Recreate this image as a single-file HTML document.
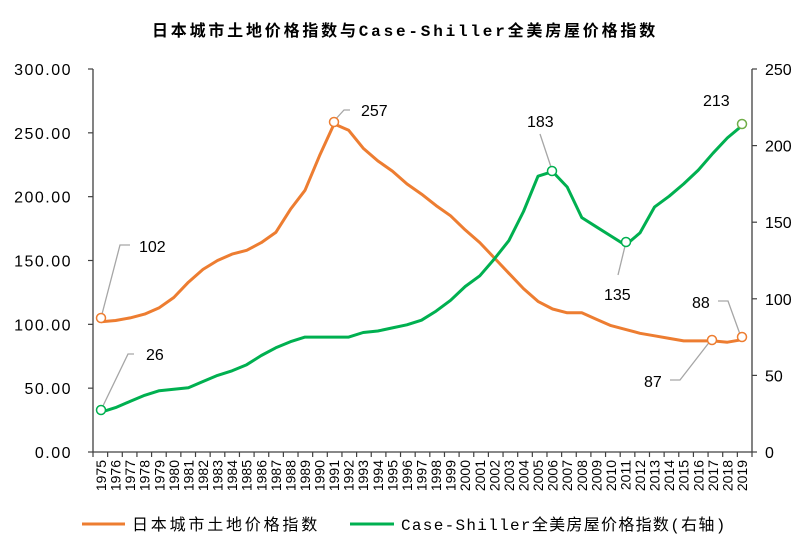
<!DOCTYPE html>
<html><head><meta charset="utf-8"><style>
body{margin:0;background:#fff;}
text{font-family:"Liberation Sans","Noto Sans CJK SC",sans-serif;fill:#000;}
</style></head><body>
<svg width="807" height="552" viewBox="0 0 807 552" xmlns="http://www.w3.org/2000/svg">
<text x="405" y="36" text-anchor="middle" font-size="16" style="font-family:'Liberation Mono','Noto Sans CJK SC',monospace;letter-spacing:2.8px;font-weight:bold">日本城市土地价格指数与Case-Shiller全美房屋价格指数</text>
<g stroke="#404040" stroke-width="1.3" fill="none">
<line x1="93" y1="69" x2="93" y2="452"/>
<line x1="752" y1="69" x2="752" y2="452"/>
<line x1="93" y1="452" x2="752" y2="452"/>
</g>
<g id="ticks" stroke="#404040" stroke-width="1.2"></g>
<g id="labels"></g>
<polyline id="org" fill="none" stroke="#ED7D31" stroke-width="3" stroke-linejoin="round"/>
<polyline id="grn" fill="none" stroke="#00B050" stroke-width="3" stroke-linejoin="round"/>
<g stroke="#A6A6A6" stroke-width="1.3" fill="none">
<polyline points="101,318 120,245 130,245"/>
<polyline points="101,410 128,354 134,354"/>
<polyline points="334,121 344,110 350,110"/>
<polyline points="552,170 540,134"/>
<polyline points="626,242 618,275"/>
<polyline points="711,340 680,380 670,380"/>
<polyline points="741,337 728,301 718,301"/>
</g>
<g fill="#fff" stroke-width="1.5">
<circle cx="101" cy="318" r="4.5" stroke="#ED7D31"/>
<circle cx="334" cy="122" r="4.5" stroke="#ED7D31"/>
<circle cx="712" cy="340" r="4.5" stroke="#ED7D31"/>
<circle cx="742" cy="337" r="4.5" stroke="#ED7D31"/>
<circle cx="101" cy="410" r="4.5" stroke="#00B050"/>
<circle cx="552" cy="171" r="4.5" stroke="#00B050"/>
<circle cx="626" cy="242" r="4.5" stroke="#00B050"/>
<circle cx="742" cy="124" r="4.5" stroke="#70AD47"/>
</g>
<g font-size="16">
<text x="139" y="252">102</text>
<text x="146" y="360">26</text>
<text x="361" y="116">257</text>
<text x="527" y="127">183</text>
<text x="604" y="300">135</text>
<text x="703" y="106">213</text>
<text x="644" y="387">87</text>
<text x="692" y="308">88</text>
</g>
<line x1="82" y1="524" x2="125" y2="524" stroke="#ED7D31" stroke-width="3"/>
<text x="132" y="530" font-size="16" style="font-family:'Liberation Mono','Noto Sans CJK SC',monospace;letter-spacing:2.8px">日本城市土地价格指数</text>
<line x1="350" y1="524" x2="394" y2="524" stroke="#00B050" stroke-width="3"/>
<text x="401" y="530" font-size="16" style="font-family:'Liberation Mono','Noto Sans CJK SC',monospace;letter-spacing:1.3px">Case-Shiller全美房屋价格指数(右轴)</text>
<script>
var ns="http://www.w3.org/2000/svg";
var o=[102,103,105,108,113,121,133,143,150,155,158,164,172,190,205,232,257,252,238,228,220,210,202,193,185,174,164,152,140,128,118,112,109,109,104,99,96,93,91,89,87,87,87,86,88];
var g=[26,29,33,37,40,41,42,46,50,53,57,63,68,72,75,75,75,75,78,79,81,83,86,92,99,108,115,126,138,157,180,183,173,153,147,141,135,143,160,167,175,184,195,205,213];
var x0=101,st=(742-101)/44;
var po=o.map((v,i)=>(x0+i*st).toFixed(1)+","+(452-v*383/300).toFixed(1)).join(" ");
var pg=g.map((v,i)=>(x0+i*st).toFixed(1)+","+(452-v*383/250).toFixed(1)).join(" ");
document.getElementById("org").setAttribute("points",po);
document.getElementById("grn").setAttribute("points",pg);
var T=document.getElementById("ticks"),L=document.getElementById("labels");
function el(n,a,p,t){var e=document.createElementNS(ns,n);for(var k in a)e.setAttribute(k,a[k]);if(t!==undefined)e.textContent=t;p.appendChild(e);}
for(var i=0;i<=45;i++){var x=93+i*(659/45);el("line",{x1:x,y1:452,x2:x,y2:457},T);}
for(var i=0;i<45;i++){var x=x0+i*st+5;el("text",{x:x,y:460,"font-size":"14","text-anchor":"end",transform:"rotate(-90 "+x+" 460)"},L,String(1975+i));}
for(var i=0;i<=6;i++){var y=452-i*383/6;el("line",{x1:88,y1:y,x2:93,y2:y},T);el("text",{x:72,y:y+6,"font-size":"16","text-anchor":"end","letter-spacing":"1.5"},L,(i*50).toFixed(2));}
for(var i=0;i<=5;i++){var y=452-i*383/5;el("line",{x1:752,y1:y,x2:757,y2:y},T);el("text",{x:765,y:y+6,"font-size":"16"},L,String(i*50));}
</script>
</svg>
</body></html>
